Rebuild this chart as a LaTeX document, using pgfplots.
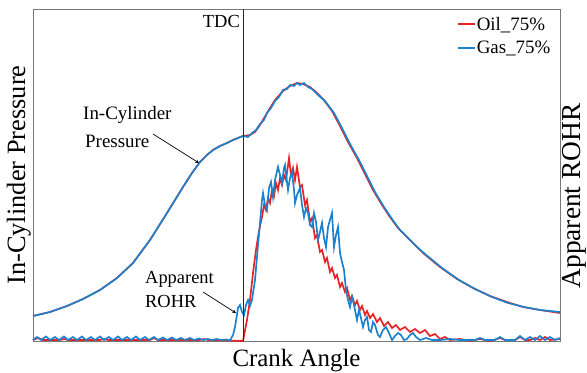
\documentclass[border=0pt]{standalone}
\usepackage{pgfplots}
\pgfplotsset{compat=1.18}
\usepackage{fontspec}
\setmainfont{Liberation Serif}
\definecolor{cred}{RGB}{230,35,38}
\definecolor{cblue}{RGB}{28,130,205}
\definecolor{framegray}{RGB}{120,120,120}
\begin{document}
\begin{tikzpicture}
\begin{axis}[
  scale only axis, width=527bp, height=332bp,
  xmin=33, xmax=560, ymin=0, ymax=332,
  xtick=\empty, ytick=\empty, clip=false,
  axis line style={framegray, line width=0.8pt},
  legend style={draw=none, fill=none, at={(axis cs:457,325.3)}, anchor=north west,
    font=\fontsize{19}{21}\selectfont, inner sep=0pt, row sep=7.5pt,
    nodes={inner sep=1pt}},
  legend cell align=left,
  legend image code/.code={\draw[#1, line width=1.6pt] (0bp,0bp) -- (17bp,0bp);},
]
% pressure
\addplot[cred, line width=1.7pt, forget plot] coordinates {
(33,25)(50,29)(67,35)(83,42)(100,51)(117,63)(133,78)(150,101)(167,128)(183,154)(192,168)(200,179)(207,186)(213,191)(220,195)(227,198)(233,201)(243,205)(250,206)(255,209)(260,216)(267,228)(275,241)(283,250)(290,255)(297,258)(303,257)(310,254)(316,249)(323,242)(332,230)(340,215)(348,199)(357,183)(365,167)(373,151)(382,136)(390,124)(398,113)(407,104)(415,96)(423,88)(440,74)(457,62)(473,53)(490,45)(507,39)(523,34)(540,31)(560,28)};
\addplot[cblue, line width=1.7pt, forget plot] coordinates {
(33,25)(50,29)(67,35)(83,42)(100,51)(117,63)(133,78)(150,101)(167,128)(183,154)(192,168)(200,179)(207,186)(213,191)(220,195)(227,198)(233,201)(243,205)(248,204)(252,208)(256,211)(260,217)(264,221)(267,228)(271,233)(275,240)(279,244)(283,251)(287,252)(290,256)(294,255)(297,258)(300,256)(304,258)(308,254)(312,252)(318,246)(325,240)(334,228)(342,213)(350,197)(359,181)(367,165)(375,149)(384,134)(392,122)(400,111)(409,102)(417,94)(425,87)(442,73)(459,61)(475,52)(492,44)(508,38)(524,34)(540,31)(560,29)};
\addlegendimage{draw=cred, line width=1.6pt}
\addlegendentry{Oil\_75\%}
\addlegendimage{draw=cblue, line width=1.6pt}
\addlegendentry{Gas\_75\%}
% ROHR red
\addplot[cred, line width=1.7pt, forget plot] coordinates {
(33,1)(38,3)(43,1)(60,1)(64,2)(68,1)(100,1)(104,2)(108,1)(150,1)(154,3)(158,1)(200,1)(204,2)(208,1)(243,0)
(247,21)(250,41)(253,68)(256,91)(258,104)(260,115)(262,124)(264,136)(266,131)(268,143)(270,138)(272,151)(274,145)(276,158)(278,151)(280,163)(282,156)(284,166)(286,161)(289,183)(291,166)(293,173)(295,161)(297,174)(300,154)(302,156)(305,136)(307,141)(310,119)(312,123)(315,103)(317,106)(320,89)(322,91)(325,79)(327,83)(330,69)(332,73)(335,63)(337,66)(340,54)(342,58)(345,49)(347,53)(350,41)(352,45)(355,36)(357,40)(360,31)(362,35)(365,26)(367,30)(370,23)(373,27)(377,19)(380,23)(384,15)(388,19)(392,13)(396,16)(400,11)(405,14)(410,9)(415,12)(420,8)(425,11)(430,5)(435,7)(440,2)(445,4)(450,1)(460,2)(470,0)(480,2)(490,0)(500,3)(505,1)(515,1)(520,4)(525,1)(530,1)(535,3)(540,1)(545,4)(550,1)(560,2)};
% ROHR blue
\addplot[cblue, line width=1.7pt, forget plot] coordinates {
(33,1)(37,4)(41,1)(46,4.5)(50,1)(55,4)(59,1)(64,4.5)(68,1)(73,4)(77,1)(82,4.5)(86,1)(91,4)(95,1)(100,4.5)(104,1)(109,4)(113,1)(118,4.5)(122,1)(127,4)(131,1)(136,4.5)(140,1)(145,4)(149,1)(154,4)(158,1)(163,3.5)(167,1)(172,3.5)(176,1)(181,3)(185,1)(190,3)(194,1)(199,2.5)(203,1)(208,2)(212,1)(217,2)(221,1)(226,1.5)(230,0.5)
(233,6)(235,14)(238,33)(240,36)(242,29)(244,26)(246,36)(248,41)(250,35)(252,41)(255,61)(258,96)(260,118)(262,141)(263,148)(265,136)(267,131)(269,153)(271,159)(273,144)(275,161)(278,174)(280,166)(282,158)(284,173)(285,176)(287,159)(288,151)(290,163)(292,169)(294,151)(295,138)(297,146)(300,153)(302,136)(304,124)(306,133)(308,128)(310,116)(312,114)(314,128)(316,119)(318,101)(320,109)(322,118)(324,103)(326,94)(328,114)(330,121)(332,128)(334,94)(336,106)(338,114)(340,88)(342,79)(344,71)(346,51)(348,41)(350,34)(352,44)(354,36)(357,21)(359,31)(361,23)(363,14)(365,21)(367,24)(369,11)(371,9)(373,19)(375,16)(378,6)(380,4)(383,11)(386,14)(389,8)(392,1)(395,5)(398,8)(401,6)(404,1)(407,2)(410,6)(413,8)(416,4)(420,1)(426,3)(432,1)(440,1)(450,2)(460,1)(475,1)(480,3)(485,1)(495,1)(500,4)(505,1)(515,1)(520,5)(525,1)(530,4)(535,1)(540,5)(545,1)(550,4)(555,1)(560,3)};
% TDC line
\addplot[black!85, line width=1pt, forget plot] coordinates {(243,0)(243,332)};
% labels
\node[anchor=base east, font=\fontsize{18.5}{20}\selectfont, inner sep=0pt] at (axis cs:240,313) {TDC};
\node[anchor=base west, font=\fontsize{19}{20}\selectfont, inner sep=0pt] at (axis cs:83,221) {In-Cylinder};
\node[anchor=base west, font=\fontsize{19}{20}\selectfont, inner sep=0pt] at (axis cs:85,193) {Pressure};
\draw[-stealth, line width=0.7pt] (axis cs:153,207) -- (axis cs:199,178);
\node[anchor=base west, font=\fontsize{18.5}{20}\selectfont, inner sep=0pt] at (axis cs:145,58) {Apparent};
\node[anchor=base west, font=\fontsize{18.5}{20}\selectfont, inner sep=0pt] at (axis cs:145,34) {ROHR};
\draw[-stealth, line width=0.7pt] (axis cs:203,49) -- (axis cs:236,28);
\node[anchor=base, font=\fontsize{25}{27}\selectfont, inner sep=0pt] at (axis cs:296.5,-25) {Crank Angle};
\node[rotate=90, anchor=base, font=\fontsize{26.5}{28}\selectfont, inner sep=0pt] at (axis cs:25,166) {In-Cylinder Pressure};
\node[rotate=90, anchor=base, font=\fontsize{27.5}{30}\selectfont, inner sep=0pt] at (axis cs:580,145) {Apparent ROHR};
\end{axis}
\pgfresetboundingbox
\useasboundingbox (-33bp,-32bp) rectangle (554bp,341bp);
\end{tikzpicture}
\end{document}
